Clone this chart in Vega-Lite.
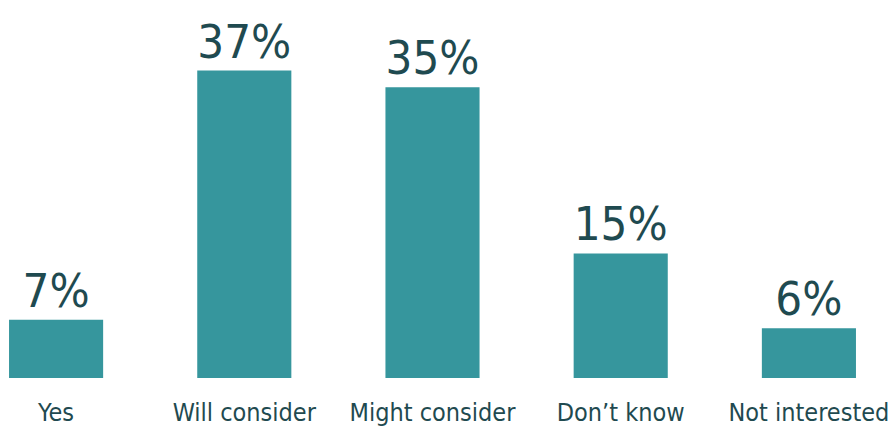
{
  "$schema": "https://vega.github.io/schema/vega-lite/v6.json",
  "width": 865,
  "height": 378,
  "autosize": {"type": "none"},
  "padding": {"left": 0, "top": 0, "right": 23, "bottom": 58},
  "background": "white",
  "config": {"view": {"stroke": null}},
  "data": {"values": [
    {"answer": "Yes", "pct": 0.07},
    {"answer": "Will consider", "pct": 0.37},
    {"answer": "Might consider", "pct": 0.35},
    {"answer": "Don’t know", "pct": 0.15},
    {"answer": "Not interested", "pct": 0.06}
  ]},
  "encoding": {
    "x": {"field": "answer", "type": "nominal", "sort": null,
      "scale": {"paddingInner": 0.5, "paddingOuter": 0.048},
      "axis": {"title": null, "domain": false, "ticks": false, "labelAngle": 0,
        "labelFont": "DejaVu Sans Condensed, sans-serif",
        "labelFontSize": 25, "labelColor": "#1f4a50", "labelPadding": 22, "labelBaseline": "top", "labelLimit": 300}},
    "y": {"field": "pct", "type": "quantitative", "scale": {"domain": [0, 0.455]}, "axis": null}
  },
  "layer": [
    {"mark": {"type": "bar", "color": "#36969d"}},
    {"mark": {"type": "text", "baseline": "alphabetic", "dy": -13, "color": "#1f4a50",
      "font": "DejaVu Sans Condensed, sans-serif", "fontSize": 47},
     "encoding": {"text": {"field": "pct", "type": "quantitative", "format": ".0%"}}}
  ]
}
